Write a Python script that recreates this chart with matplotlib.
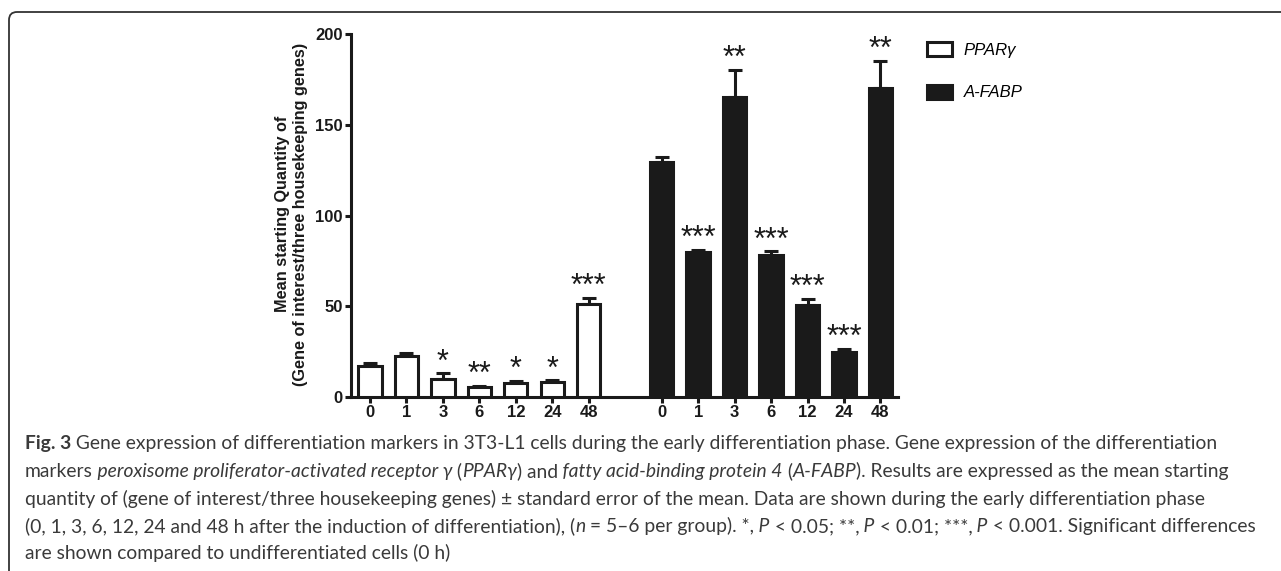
import matplotlib
matplotlib.use("Agg")
import matplotlib.pyplot as plt
import numpy as np
from matplotlib.path import Path
from matplotlib.patches import PathPatch
from matplotlib.transforms import IdentityTransform

# hours after induction of differentiation
hours = ["0", "1", "3", "6", "12", "24", "48"]

ppar_mean = [17.0, 22.5, 9.7, 5.5, 7.9, 8.3, 51.3]
ppar_sem = [1.9, 1.9, 3.3, 0.6, 0.9, 0.8, 3.3]
ppar_sig = ["", "", "*", "**", "*", "*", "***"]

afabp_mean = [129.4, 80.0, 165.5, 78.1, 50.6, 24.7, 170.1]
afabp_sem = [3.1, 1.2, 14.7, 2.2, 3.3, 1.9, 15.2]
afabp_sig = ["", "***", "**", "***", "***", "***", "**"]

y_ticks = [0, 50, 100, 150, 200]

caption_lines = [
    [("Fig. 3", "bold"),
     (" Gene expression of differentiation markers in 3T3-L1 cells during the early "
      "differentiation phase. Gene expression of the differentiation", "normal")],
    [("markers", "normal"),
     (" peroxisome proliferator-activated receptor γ", "italic"),
     (" (", "normal"), ("PPARγ", "italic"), (") and", "normal"),
     (" fatty acid-binding protein 4", "italic"),
     (" (", "normal"), ("A-FABP", "italic"),
     ("). Results are expressed as the mean starting", "normal")],
    [("quantity of (gene of interest/three housekeeping genes) ± standard error of the "
      "mean. Data are shown during the early differentiation phase", "normal")],
    [("(0, 1, 3, 6, 12, 24 and 48 h after the induction of differentiation), (", "normal"),
     ("n", "italic"), (" = 5–6 per group). *,", "normal"), (" P", "italic"),
     (" < 0.05; **,", "normal"), (" P", "italic"), (" < 0.01; ***,", "normal"),
     (" P", "italic"), (" < 0.001. Significant differences", "normal")],
    [("are shown compared to undifferentiated cells (0 h)", "normal")],
]

W, H = 1281, 571
dark = "#1a1a1a"
lw = 2.2
plt.rcParams["font.family"] = ["Liberation Sans", "DejaVu Sans"]

fig = plt.figure(figsize=(W / 100, H / 100), dpi=100)
ax = fig.add_axes([351 / W, 1 - 397 / H, (898 - 351) / W, (397 - 34) / H])

x1 = np.arange(len(hours))
x2 = x1 + len(hours) + 1

b1 = ax.bar(x1, ppar_mean, width=0.64, color="white", edgecolor=dark,
            linewidth=lw, zorder=3)
b2 = ax.bar(x2, afabp_mean, width=0.64, color=dark, edgecolor=dark,
            linewidth=lw, zorder=3)

for xs, m, e, sig in [(x1, ppar_mean, ppar_sem, ppar_sig),
                      (x2, afabp_mean, afabp_sem, afabp_sig)]:
    ax.errorbar(xs, m, yerr=[np.zeros(len(m)), e], fmt="none", ecolor=dark,
                elinewidth=lw, capsize=4.7, capthick=lw, zorder=2)
    for xi, mi, ei, si in zip(xs, m, e, sig):
        if si:
            ax.annotate(si, (xi, mi + ei), xytext=(0, 2), textcoords="offset points",
                        ha="center", va="baseline", fontsize=22, color=dark)

ax.set_xlim(-0.52, 14.48)
ax.set_ylim(0, 200)
ax.spines[["top", "right"]].set_visible(False)
for s in ["left", "bottom"]:
    ax.spines[s].set_linewidth(lw)
    ax.spines[s].set_color(dark)
ax.set_xticks(np.concatenate([x1, x2]))
ax.set_xticklabels(hours * 2)
ax.set_yticks(y_ticks)
ax.tick_params(axis="both", width=lw, length=4.3, color=dark, labelsize=12, pad=1.5)
for lab in ax.get_xticklabels() + ax.get_yticklabels():
    lab.set_fontweight("bold")
    lab.set_color(dark)

# y label, two lines
fig.text(283 / W, 1 - 214 / H, "Mean starting Quantity of", rotation=90,
         ha="center", va="center", fontsize=11.7, fontweight="bold", color=dark)
fig.text(301 / W, 1 - 214 / H, "(Gene of interest/three housekeeping genes)",
         rotation=90, ha="center", va="center", fontsize=11.7, fontweight="bold", color=dark)

fig.legend(handles=[b1, b2], labels=["PPARγ", "A-FABP"], loc="upper left",
           bbox_to_anchor=(927 / W, 1 - 42 / H), frameon=False,
           prop={"style": "italic", "size": 12}, handlelength=1.5,
           handleheight=0.95, handletextpad=0.7, labelspacing=1.6,
           borderpad=0, borderaxespad=0)

# rounded frame around the figure (open to the right and bottom)
r = 8
x0, ytop = 9, H - 12
verts = [(x0, -5), (x0, ytop - r), (x0, ytop), (x0 + r, ytop), (W + 5, ytop)]
codes = [Path.MOVETO, Path.LINETO, Path.CURVE3, Path.CURVE3, Path.LINETO]
fig.add_artist(PathPatch(Path(verts, codes), transform=IdentityTransform(),
                         fill=False, ec="#333333", lw=1.3))

# caption, drawn segment by segment so bold / italic runs can be mixed
renderer = fig.canvas.get_renderer()
cap_color = "#3a3a3a"
baselines = [449, 477, 504.5, 532, 559.5]


def draw_caption_line(segs, yb, size):
    x = 25
    texts = []
    for text, style in segs:
        kw = {"fontweight": "bold"} if style == "bold" else {}
        if style == "italic":
            kw["fontstyle"] = "italic"
        t = fig.text(x, H - yb, text, transform=IdentityTransform(), ha="left",
                     va="baseline", fontsize=size, color=cap_color,
                     family=["Lato", "DejaVu Sans"], **kw)
        x += t.get_window_extent(renderer).width
        texts.append(t)
    return x, texts


# the longest line runs to about x = 1251 in the reference
end, tmp = draw_caption_line(caption_lines[3], baselines[3], 12)
for t in tmp:
    t.remove()
cap_size = 12 * (1251 - 25) / (end - 25)

for segs, yb in zip(caption_lines, baselines):
    draw_caption_line(segs, yb, cap_size)

fig.savefig("out.png", dpi=100)
